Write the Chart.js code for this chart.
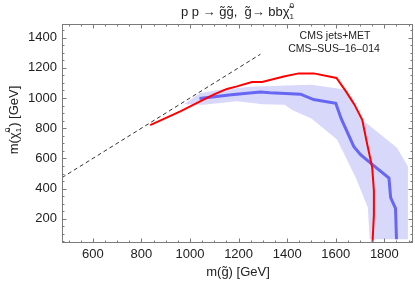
<!DOCTYPE html>
<html>
<head>
<meta charset="utf-8">
<script src="https://cdn.jsdelivr.net/npm/chart.js@4.4.1/dist/chart.umd.min.js"></script>
<style>
  html, body { margin: 0; padding: 0; background: #fff; }
  #wrap { width: 415px; height: 287px; }
</style>
</head>
<body>
<div id="wrap"><canvas id="c" width="415" height="287"></canvas></div>
<script>
'use strict';
// observed limit (red)
const redX = [836, 960, 1097, 1152, 1193, 1255, 1297, 1386, 1448, 1509, 1603, 1644, 1677, 1709, 1730, 1750, 1757, 1757, 1750];
const redY = [821, 911, 1022, 1060, 1077, 1106, 1106, 1143, 1163, 1163, 1133, 1039, 956, 856, 690, 541, 385, 226, 0];
// expected limit (blue)
const blueX = [1039, 1170, 1290, 1330, 1455, 1509, 1600, 1622, 1674, 1702, 1750, 1819, 1826, 1846, 1850];
const blueY = [996, 1022, 1040, 1035, 1025, 990, 965, 865, 680, 625, 560, 470, 340, 270, 65];
// expected +-1 sigma band
const bandUpX = [975, 1042, 1125, 1250, 1400, 1500, 1630, 1668, 1709, 1853, 1897, 1897];
const bandUpY = [958, 1033, 1055, 1075, 1082, 1088, 1058, 1000, 856, 669, 547, 65];
const bandLoX = [975, 1056, 1193, 1300, 1390, 1420, 1500, 1605, 1683, 1732, 1740];
const bandLoY = [958, 956, 978, 958, 955, 920, 865, 725, 470, 275, 65];
// kinematic diagonal
const diagX = [473, 1290];
const diagY = [473, 1290];

const xTicks = [600, 800, 1000, 1200, 1400, 1600, 1800];
const yTicks = [200, 400, 600, 800, 1000, 1200, 1400];

const FONT = '"Liberation Sans", Arial, sans-serif';
const pts = (xs, ys) => xs.map((x, i) => ({ x, y: ys[i] }));
const bandPts = pts(bandUpX, bandUpY).concat(pts(bandLoX, bandLoY).reverse());

// draws text pieces, where a piece may be a stacked sup/sub pair
function pieceWidth(ctx, p, size) {
  if (p.t !== undefined) { ctx.font = `${size}px ${FONT}`; return ctx.measureText(p.t).width; }
  ctx.font = `${size * 0.62}px ${FONT}`;
  return Math.max(ctx.measureText(p.sup).width, ctx.measureText(p.sub).width) + 1;
}
function drawRich(ctx, parts, cx, cy, size) {
  let x = cx - parts.reduce((w, p) => w + pieceWidth(ctx, p, size), 0) / 2;
  ctx.textAlign = 'left';
  ctx.textBaseline = 'middle';
  for (const p of parts) {
    const w = pieceWidth(ctx, p, size);
    if (p.t !== undefined) {
      ctx.fillText(p.t, x, cy);
    } else {
      ctx.fillText(p.sup, x, cy - size * 0.5);
      ctx.fillText(p.sub, x, cy + size * 0.35);
    }
    x += w;
  }
}

const framePlugin = {
  id: 'frame',
  afterDatasetsDraw(chart) {
    const { ctx, chartArea: a, scales: { x, y } } = chart;
    ctx.save();
    ctx.strokeStyle = '#7a7a7a';
    ctx.lineWidth = 1;
    ctx.strokeRect(Math.round(a.left) + 0.5, Math.round(a.top) + 0.5,
      Math.round(a.right - a.left) - 1, Math.round(a.bottom - a.top) - 1);
    ctx.beginPath();
    for (let v = 500; v <= 1900; v += 50) {
      const px = Math.round(x.getPixelForValue(v)) + 0.5;
      const len = v % 200 === 0 ? 4.5 : 2.5;
      ctx.moveTo(px, a.bottom); ctx.lineTo(px, a.bottom - len);
      ctx.moveTo(px, a.top); ctx.lineTo(px, a.top + len);
    }
    for (let v = 50; v <= 1450; v += 50) {
      const py = Math.round(y.getPixelForValue(v)) + 0.5;
      const len = v % 200 === 0 ? 4.5 : 2.5;
      ctx.moveTo(a.left, py); ctx.lineTo(a.left + len, py);
      ctx.moveTo(a.right, py); ctx.lineTo(a.right - len, py);
    }
    ctx.stroke();

    ctx.fillStyle = '#222';
    drawRich(ctx, [{ t: 'p p \u2192 g\u0303g\u0303,  g\u0303\u2192 bb\u03c7\u0303' }, { sup: '0', sub: '1' }], 238, 12, 13);
    drawRich(ctx, [{ t: 'm(g\u0303) [GeV]' }], 238, 272, 13);
    ctx.save();
    ctx.translate(14, 120);
    ctx.rotate(-Math.PI / 2);
    drawRich(ctx, [{ t: 'm(\u03c7\u0303' }, { sup: '0', sub: '1' }, { t: ') [GeV]' }], 0, 0, 13);
    ctx.restore();
    drawRich(ctx, [{ t: 'CMS jets+MET' }], 335, 36, 10.5);
    drawRich(ctx, [{ t: 'CMS\u2013SUS\u201316\u2013014' }], 334, 49, 10.5);
    ctx.restore();
  }
};

new Chart(document.getElementById('c'), {
  type: 'scatter',
  data: {
    datasets: [
      { data: pts(redX, redY), showLine: true, borderColor: '#ff0000', borderWidth: 2, pointRadius: 0, order: 0 },
      { data: pts(blueX, blueY), showLine: true, borderColor: '#6767f4', borderWidth: 3, pointRadius: 0, order: 1 },
      { data: pts(diagX, diagY), showLine: true, borderColor: '#333', borderWidth: 1, borderDash: [4, 3], pointRadius: 0, order: 2 },
      { data: bandPts, showLine: true, borderWidth: 0, borderColor: 'rgba(0,0,0,0)', backgroundColor: '#d8d8fb', fill: 'shape', pointRadius: 0, tension: 0, order: 3 },
    ],
  },
  options: {
    responsive: false,
    devicePixelRatio: 1,
    animation: false,
    layout: { padding: { top: 24, right: 2, left: 0, bottom: 0 } },
    plugins: { legend: { display: false }, tooltip: { enabled: false }, title: { display: false } },
    scales: {
      x: {
        type: 'linear', min: 473, max: 1918,
        grid: { display: false, drawTicks: false },
        border: { display: false },
        ticks: { font: { family: FONT, size: 13 }, color: '#222', padding: 4, maxRotation: 0, autoSkip: false, callback: v => String(v) },
        afterBuildTicks: s => { s.ticks = xTicks.map(v => ({ value: v })); },
        afterFit: s => { s.height = 44; },
      },
      y: {
        type: 'linear', min: 40, max: 1490,
        grid: { display: false, drawTicks: false },
        border: { display: false },
        ticks: { font: { family: FONT, size: 13 }, color: '#222', padding: 5, autoSkip: false, callback: v => String(v) },
        afterBuildTicks: s => { s.ticks = yTicks.map(v => ({ value: v })); },
        afterFit: s => { s.width = 62; },
      },
    },
  },
  plugins: [framePlugin],
});
</script>
</body>
</html>
